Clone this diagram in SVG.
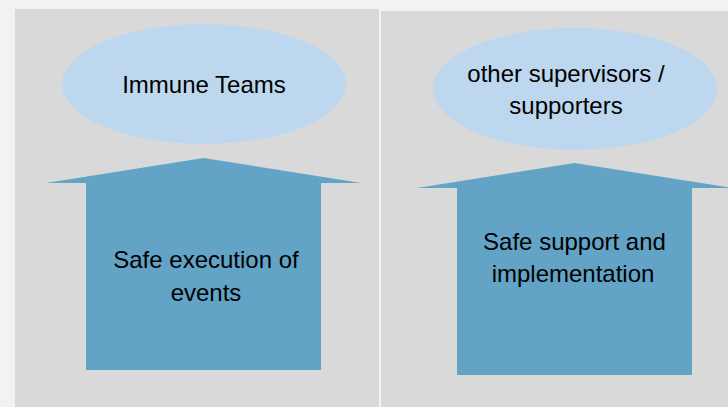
<svg xmlns="http://www.w3.org/2000/svg" width="728" height="407" viewBox="0 0 728 407">
  <style>
    .panel { fill: #d9d9d9; }
    .oval { fill: #bdd7ee; }
    .arrow { fill: #62a3c6; }
    .t { font-family: "Liberation Sans", Arial, sans-serif; font-size: 24px; fill: #000000; text-anchor: middle; }
  </style>
  <rect x="0" y="0" width="728" height="407" fill="#f2f2f2"/>
  <g id="panel-left">
    <rect class="panel" x="15" y="9" width="364" height="398"/>
  </g>
  <g id="panel-right">
    <rect class="panel" x="381" y="11" width="347" height="396"/>
  </g>
  <g id="node-immune-teams">
    <ellipse class="oval" cx="204" cy="84" rx="142" ry="60"/>
    <text class="t" x="204" y="93">Immune Teams</text>
  </g>
  <g id="node-safe-execution">
    <polygon class="arrow" points="46,183 203.5,158 361,183 321,183 321,370 86,370 86,183"/>
    <text class="t" x="206" y="268">Safe execution of</text>
    <text class="t" x="206" y="301">events</text>
  </g>
  <g id="node-other-supervisors">
    <ellipse class="oval" cx="575" cy="89" rx="142" ry="61"/>
    <text class="t" x="566" y="82">other supervisors /</text>
    <text class="t" x="566" y="114">supporters</text>
  </g>
  <g id="node-safe-support">
    <polygon class="arrow" points="417,188 574.5,163 732,188 692,188 692,375 457,375 457,188"/>
    <text class="t" x="574.5" y="250">Safe support and</text>
    <text class="t" x="573" y="282">implementation</text>
  </g>
  <g id="connectors"></g>
</svg>
